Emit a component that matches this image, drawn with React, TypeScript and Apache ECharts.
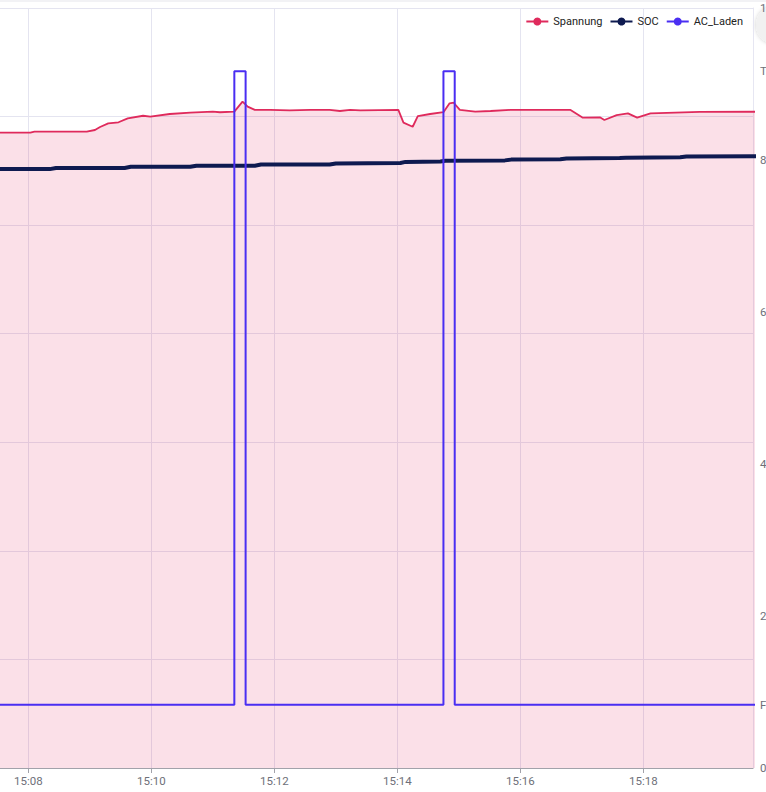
import React, { useEffect, useRef } from "react";
import * as echarts from "echarts";

const spannungTimes = ['15:07:20','15:08:02','15:08:06','15:08:57','15:09:05','15:09:10','15:09:18','15:09:28','15:09:37','15:09:52','15:09:59','15:10:18','15:10:38','15:11:00','15:11:07','15:11:21','15:11:29','15:11:34','15:11:41','15:11:56','15:12:15','15:12:35','15:12:54','15:13:04','15:13:14','15:13:24','15:14:01','15:14:06','15:14:15','15:14:20','15:14:32','15:14:45','15:14:51','15:14:55','15:15:01','15:15:16','15:15:31','15:15:50','15:16:49','15:17:01','15:17:18','15:17:22','15:17:34','15:17:45','15:17:54','15:18:07','15:18:55','15:20:00'];
const spannungValues = [46.81,46.81,46.89,46.89,47.01,47.23,47.50,47.58,47.87,48.06,47.99,48.19,48.29,48.36,48.32,48.36,49.10,48.73,48.49,48.49,48.45,48.49,48.49,48.41,48.49,48.45,48.49,47.55,47.25,48.04,48.19,48.32,48.98,49.02,48.49,48.36,48.41,48.49,48.49,47.92,47.93,47.75,48.11,48.24,47.92,48.24,48.34,48.36];

const socTimes = ['15:07:20','15:08:21','15:08:27','15:09:34','15:09:40','15:10:38','15:10:44','15:11:41','15:11:47','15:12:54','15:13:00','15:14:03','15:14:08','15:14:42','15:14:47','15:15:45','15:15:51','15:16:39','15:16:45','15:17:37','15:17:43','15:18:36','15:18:42','15:20:00'];
const socValues = [78.8,78.8,78.95,78.95,79.1,79.1,79.25,79.25,79.4,79.4,79.55,79.6,79.75,79.8,79.9,79.95,80.05,80.1,80.2,80.25,80.3,80.35,80.45,80.5];

const acTimes = ['15:07:20','15:11:21','15:11:32','15:14:45','15:14:56','15:20:00'];
const acValues = [0, 1, 0, 1, 0, 0];

// time axis: seconds since 15:00:00; ticks every 2 minutes starting at 15:06
const xMinTime = '15:06:00';
const xMaxTime = '15:19:47';
const xTickSeconds = 120;
const seriesNames = ['Spannung', 'SOC', 'AC_Laden'];

function sec(hms: string): number {
  const [h, m, s] = hms.split(':').map(Number);
  return (h - 15) * 3600 + m * 60 + s;
}

function pairs(times: string[], values: number[]) {
  return times.map((t, i) => [sec(t), values[i]]);
}

const FONT = "Roboto, 'Noto Sans', sans-serif";

export default function App() {
  const ref = useRef<HTMLDivElement>(null);
  useEffect(() => {
    if (!ref.current) return;
    const chart = echarts.init(ref.current, undefined, { renderer: "svg" });
    const pad = (n: number) => (n < 10 ? "0" + n : "" + n);
    chart.setOption({
      animation: false,
      backgroundColor: "#ffffff",
      textStyle: { fontFamily: FONT },
      legend: {
        data: seriesNames,
        right: 18,
        top: 11,
        itemWidth: 22,
        itemHeight: 10,
        itemGap: 7,
        textStyle: { color: "#222", fontSize: 11, fontFamily: FONT },
      },
      grid: { left: -94.7, right: 13, top: 8, bottom: 24, containLabel: false, outerBoundsMode: "none" },
      xAxis: {
        type: "value",
        min: sec(xMinTime),
        max: sec(xMaxTime),
        interval: xTickSeconds,
        axisLine: { lineStyle: { color: "#a2a2aa", width: 1 } },
        axisTick: { show: true, length: 5, lineStyle: { color: "#a2a2aa" } },
        axisLabel: {
          color: "#6e7079",
          fontSize: 11.5,
          margin: 7,
          fontFamily: FONT,
          showMaxLabel: false,
          formatter: (v: number) => {
            const total = Math.round(v);
            const h = 15 + Math.floor(total / 3600);
            const m = Math.floor((total % 3600) / 60);
            return pad(h) + ":" + pad(m);
          },
        },
        splitLine: { show: true, lineStyle: { color: "#e4e4f0", width: 1 } },
      },
      yAxis: [
        {
          type: "value",
          position: "left",
          min: 0,
          max: 56,
          interval: 8,
          axisLine: { show: false },
          axisTick: { show: false },
          axisLabel: { show: false },
          splitLine: { show: true, lineStyle: { color: "#e4e4f0", width: 1 } },
        },
        {
          type: "value",
          position: "right",
          min: 0,
          max: 100,
          interval: 20,
          axisLine: { show: true, lineStyle: { color: "#e6e6f2" } },
          axisTick: { show: false },
          axisLabel: { color: "#6e7079", fontSize: 11.5, margin: 7, fontFamily: FONT },
          splitLine: { show: false },
        },
        {
          type: "value",
          position: "right",
          min: -0.1,
          max: 1.1,
          axisLine: { show: false },
          axisTick: { show: false },
          axisLabel: {
            color: "#6e7079",
            fontSize: 11.5,
            margin: 7,
            fontFamily: FONT,
            customValues: [0, 1],
            formatter: (v: number) => (v >= 0.5 ? "True" : "False"),
          },
          splitLine: { show: false },
        },
      ],
      series: [
        {
          name: seriesNames[0],
          type: "line",
          yAxisIndex: 0,
          data: pairs(spannungTimes, spannungValues),
          symbol: "circle",
          symbolSize: 8,
          showSymbol: false,
          color: "#df2a5c",
          lineStyle: { color: "#df2a5c", width: 1.8 },
          areaStyle: { color: "rgba(224, 36, 94, 0.2)", origin: "start" },
        },
        {
          name: seriesNames[1],
          type: "line",
          yAxisIndex: 1,
          data: pairs(socTimes, socValues),
          symbol: "circle",
          symbolSize: 8,
          showSymbol: false,
          color: "#0e1a50",
          lineStyle: { color: "#0e1a50", width: 4 },
        },
        {
          name: seriesNames[2],
          type: "line",
          yAxisIndex: 2,
          step: "end",
          data: pairs(acTimes, acValues),
          symbol: "circle",
          symbolSize: 8,
          showSymbol: false,
          color: "#4a2ef2",
          lineStyle: { color: "#4a2ef2", width: 2 },
        },
      ],
      graphic: [
        {
          type: "rect",
          left: 0,
          top: 0,
          shape: { width: 766, height: 2 },
          style: { fill: "#f2f2f5" },
          silent: true,
        },
        {
          type: "circle",
          shape: { cx: 775, cy: 25, r: 19 },
          style: { fill: "#f1f1f1", shadowBlur: 4, shadowColor: "rgba(0,0,0,0.2)" },
          silent: true,
        },
      ],
    });
    return () => chart.dispose();
  }, []);
  return (
    <div
      ref={ref}
      style={{ position: "absolute", left: 0, top: 0, width: 766, height: 792, overflow: "hidden" }}
    />
  );
}
